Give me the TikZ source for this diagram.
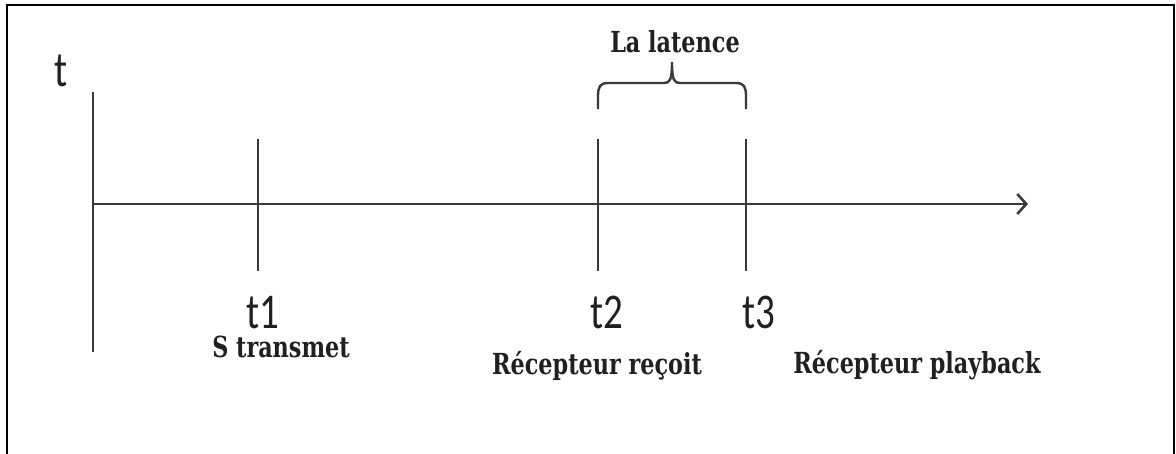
\documentclass[tikz,border=0pt]{standalone}
\usepackage{fontspec}
\usetikzlibrary{arrows.meta}
\newfontfamily\labfont[FakeStretch=0.77,BoldFont={* Bold}]{DejaVu Serif}
\newfontfamily\tfont[FakeStretch=0.78]{Carlito}
\definecolor{axisgray}{HTML}{3A3A3A}
\definecolor{txt}{HTML}{202020}
\tikzset{
  axisline/.style={draw=axisgray, line width=2.6pt},
  frameline/.style={draw=black, line width=2.6pt},
  tlab/.style={anchor=base, inner sep=0pt, text=txt, text depth=0pt, text height=32pt, font=\tfont\fontsize{50}{50}\selectfont},
  caption/.style={anchor=base, inner sep=0pt, text=txt, text height=22pt, text depth=6pt, font=\labfont\bfseries\fontsize{29}{29}\selectfont},
}
\begin{document}
\begin{tikzpicture}[x=1pt,y=-1pt]
\useasboundingbox (0,0) rectangle (1176,453);
\fill[white] (0,0) rectangle (1176,453);
% frame (open at the bottom)
\draw[frameline] (7,455) -- (7,5) -- (1174,5) -- (1174,455);
% axes
\coordinate (vtop) at (93,92);
\coordinate (vbot) at (93,352);
\coordinate (origin) at (93,204);
\coordinate (tip) at (1028,204);
\draw[axisline] (vtop) -- (vbot);
\draw[axisline, -{Straight Barb[length=9pt,width=20pt,line width=2.6pt]}] (origin) -- (tip);
% ticks
\coordinate (a1) at (258,139); \coordinate (b1) at (258,271);
\coordinate (a2) at (598,139); \coordinate (b2) at (598,271);
\coordinate (a3) at (746,139); \coordinate (b3) at (746,271);
\draw[axisline] (a1) -- (b1);
\draw[axisline] (a2) -- (b2);
\draw[axisline] (a3) -- (b3);
% brace
\coordinate (bl) at (598,109);
\coordinate (bt) at (672,62);
\coordinate (br) at (746,109);
\draw[axisline, line width=2.4pt]
  (bl) -- (598,96) .. controls (598,87) and (600,83) .. (608,83) -- (664,83)
  .. controls (670,83) and (672,80) .. (bt)
  .. controls (672,80) and (674,83) .. (680,83) -- (736,83)
  .. controls (744,83) and (746,87) .. (746,96) -- (br);
% labels
\node[tlab] (tt) at (61,86) {t};
\node[tlab] (t1) at (263,328) {t1};
\node[tlab] (t2) at (607,328) {t2};
\node[tlab] (t3) at (759,328) {t3};
\node[caption] (lat) at (675,52) {La latence};
\node[caption] (s) at (281,357) {S transmet};
\node[caption] (rr) at (597,374) {Récepteur reçoit};
\node[caption] (rp) at (917,373) {Récepteur playback};
\end{tikzpicture}
\end{document}
